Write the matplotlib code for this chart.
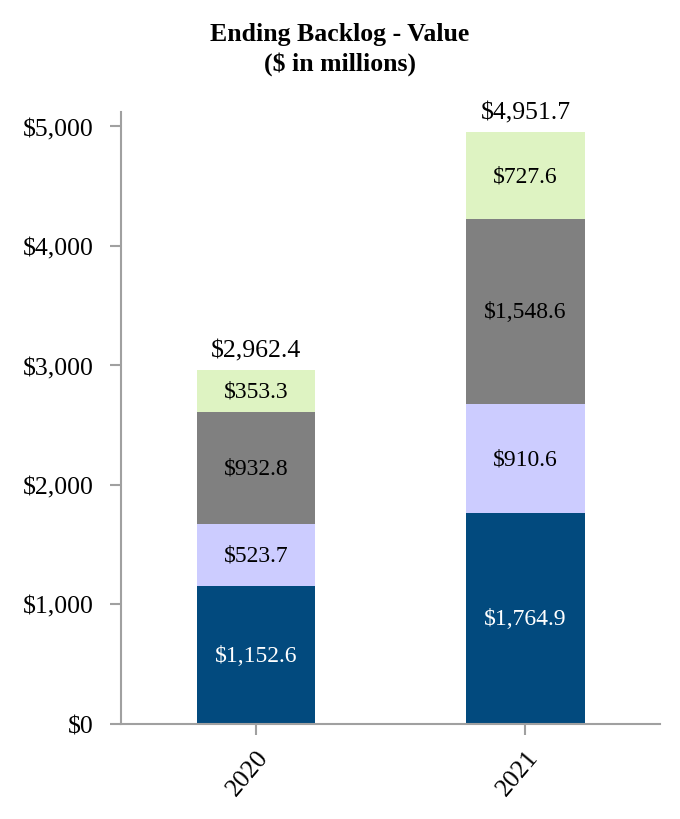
import numpy as np
import matplotlib.pyplot as plt

years = ["2020", "2021"]
seg1 = [1152.6, 1764.9]
seg2 = [523.7, 910.6]
seg3 = [932.8, 1548.6]
seg4 = [353.3, 727.6]
totals = [2962.4, 4951.7]

colors = ["#024A7E", "#CCCCFF", "#808080", "#DEF3C2"]
text_colors = ["white", "black", "black", "black"]

plt.rcParams['font.family'] = ['Liberation Serif', 'DejaVu Serif']

fig = plt.figure(figsize=(6.8, 8.2), dpi=100)
ax = fig.add_axes([0.178, 0.116, 0.793, 0.746])

x = np.arange(len(years))
bottom = np.zeros(len(years))
for vals, c, tc in zip([seg1, seg2, seg3, seg4], colors, text_colors):
    vals = np.array(vals)
    ax.bar(x, vals, 0.44, bottom=bottom, color=c)
    for xi, b, v in zip(x, bottom, vals):
        ax.text(xi, b + v / 2, "${:,.1f}".format(v), ha="center", va="center",
                color=tc, fontsize=17)
    bottom += vals

for xi, t in zip(x, totals):
    ax.annotate("${:,.1f}".format(t), (xi, t), xytext=(0, 10), textcoords="offset points",
                ha="center", va="baseline", fontsize=18.5)

ax.set_xlim(-0.5, 1.5)
ax.set_ylim(0, 5120)
ax.set_yticks(np.arange(0, 5001, 1000))
ax.set_yticklabels(["${:,.0f}".format(v) for v in np.arange(0, 5001, 1000)], fontsize=18.5)
ax.set_xticks(x)
ax.set_xticklabels(years, fontsize=18.5, rotation=50, ha="right", rotation_mode="anchor")

for s in ["top", "right"]:
    ax.spines[s].set_visible(False)
for s in ["left", "bottom"]:
    ax.spines[s].set_color("#A0A0A0")
    ax.spines[s].set_linewidth(1.5)
ax.tick_params(axis="both", color="#A0A0A0", width=1.5, length=8)
ax.tick_params(axis="y", pad=12)
ax.tick_params(axis="x", pad=8)

fig.text(0.5, 0.94, "Ending Backlog - Value\n($ in millions)", ha="center", va="center",
         fontsize=18.5, fontweight="bold", linespacing=1.35)

fig.savefig("out.png", dpi=100)
